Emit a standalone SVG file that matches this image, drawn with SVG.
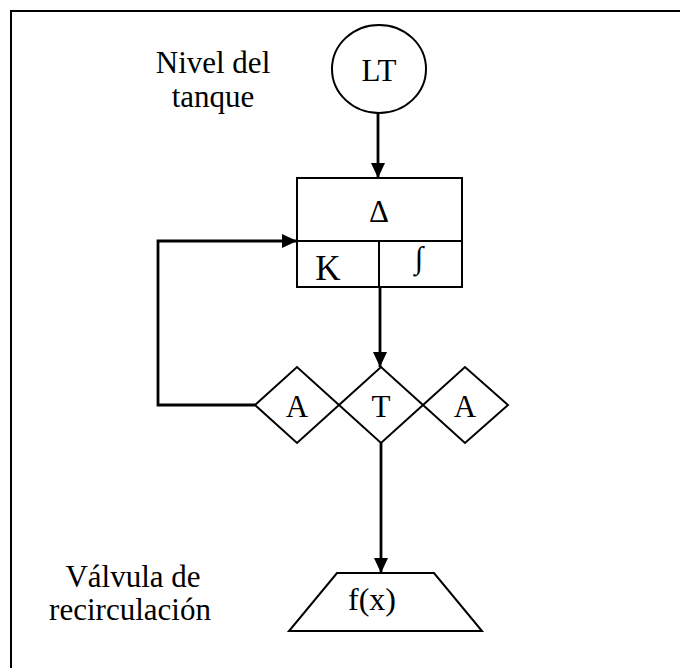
<svg xmlns="http://www.w3.org/2000/svg" width="680" height="668" viewBox="0 0 680 668">
<defs>
<marker id="ah" markerUnits="userSpaceOnUse" markerWidth="16" markerHeight="16" viewBox="0 0 16 16" refX="15" refY="8" orient="auto">
<path d="M0,1 L15,8 L0,15 Z" fill="#000"/>
</marker>
<style>
.shape{fill:#fff;stroke:#000;stroke-width:2}
.line{fill:none;stroke:#000;stroke-width:2.8}
.t{font-family:"Liberation Serif","Times New Roman",serif;font-size:31px;fill:#000}
.m{text-anchor:middle}
</style>
</defs>
<rect width="680" height="668" fill="#fff"/>
<g id="frame"><path d="M11,668 L11,11 L680,11" fill="none" stroke="#000" stroke-width="2"/></g>
<g id="connectors">
<line class="line" x1="378" y1="113" x2="378" y2="178" marker-end="url(#ah)"/>
<line class="line" x1="380" y1="287" x2="380" y2="367" marker-end="url(#ah)"/>
<line class="line" x1="381" y1="443" x2="381" y2="573" marker-end="url(#ah)"/>
<polyline class="line" points="255,405 158,405 158,241 297,241" marker-end="url(#ah)"/>
</g>
<g id="label-nivel"><text class="t m" x="213" y="73">Nivel del</text><text class="t m" x="213" y="107">tanque</text></g>
<g id="node-LT"><ellipse class="shape" cx="379" cy="69" rx="47" ry="44"/><text class="t m" x="379" y="81">LT</text></g>
<g id="node-controller">
<rect class="shape" x="297" y="178" width="165" height="109"/>
<line class="shape" x1="297" y1="241" x2="462" y2="241"/>
<line class="shape" x1="379" y1="241" x2="379" y2="287"/>
<text class="t m" x="379" y="222">Δ</text>
<text class="t m" x="328" y="280" style="font-size:35px">K</text>
<text class="t m" x="419" y="268">∫</text>
</g>
<g id="node-A-left"><polygon class="shape" points="255,405 297,367 339,405 297,443"/><text class="t m" x="297" y="417">A</text></g>
<g id="node-T"><polygon class="shape" points="339,405 381,367 423,405 381,443"/><text class="t m" x="381" y="417">T</text></g>
<g id="node-A-right"><polygon class="shape" points="423,405 465,367 508,405 465,443"/><text class="t m" x="465" y="417">A</text></g>
<g id="node-valve"><polygon class="shape" points="337,573 434,573 482,631 289,631"/><text class="t m" x="372" y="610" style="font-size:32px">f(x)</text></g>
<g id="label-valvula"><text class="t m" x="133" y="587">Válvula de</text><text class="t m" x="130" y="620">recirculación</text></g>
</svg>
